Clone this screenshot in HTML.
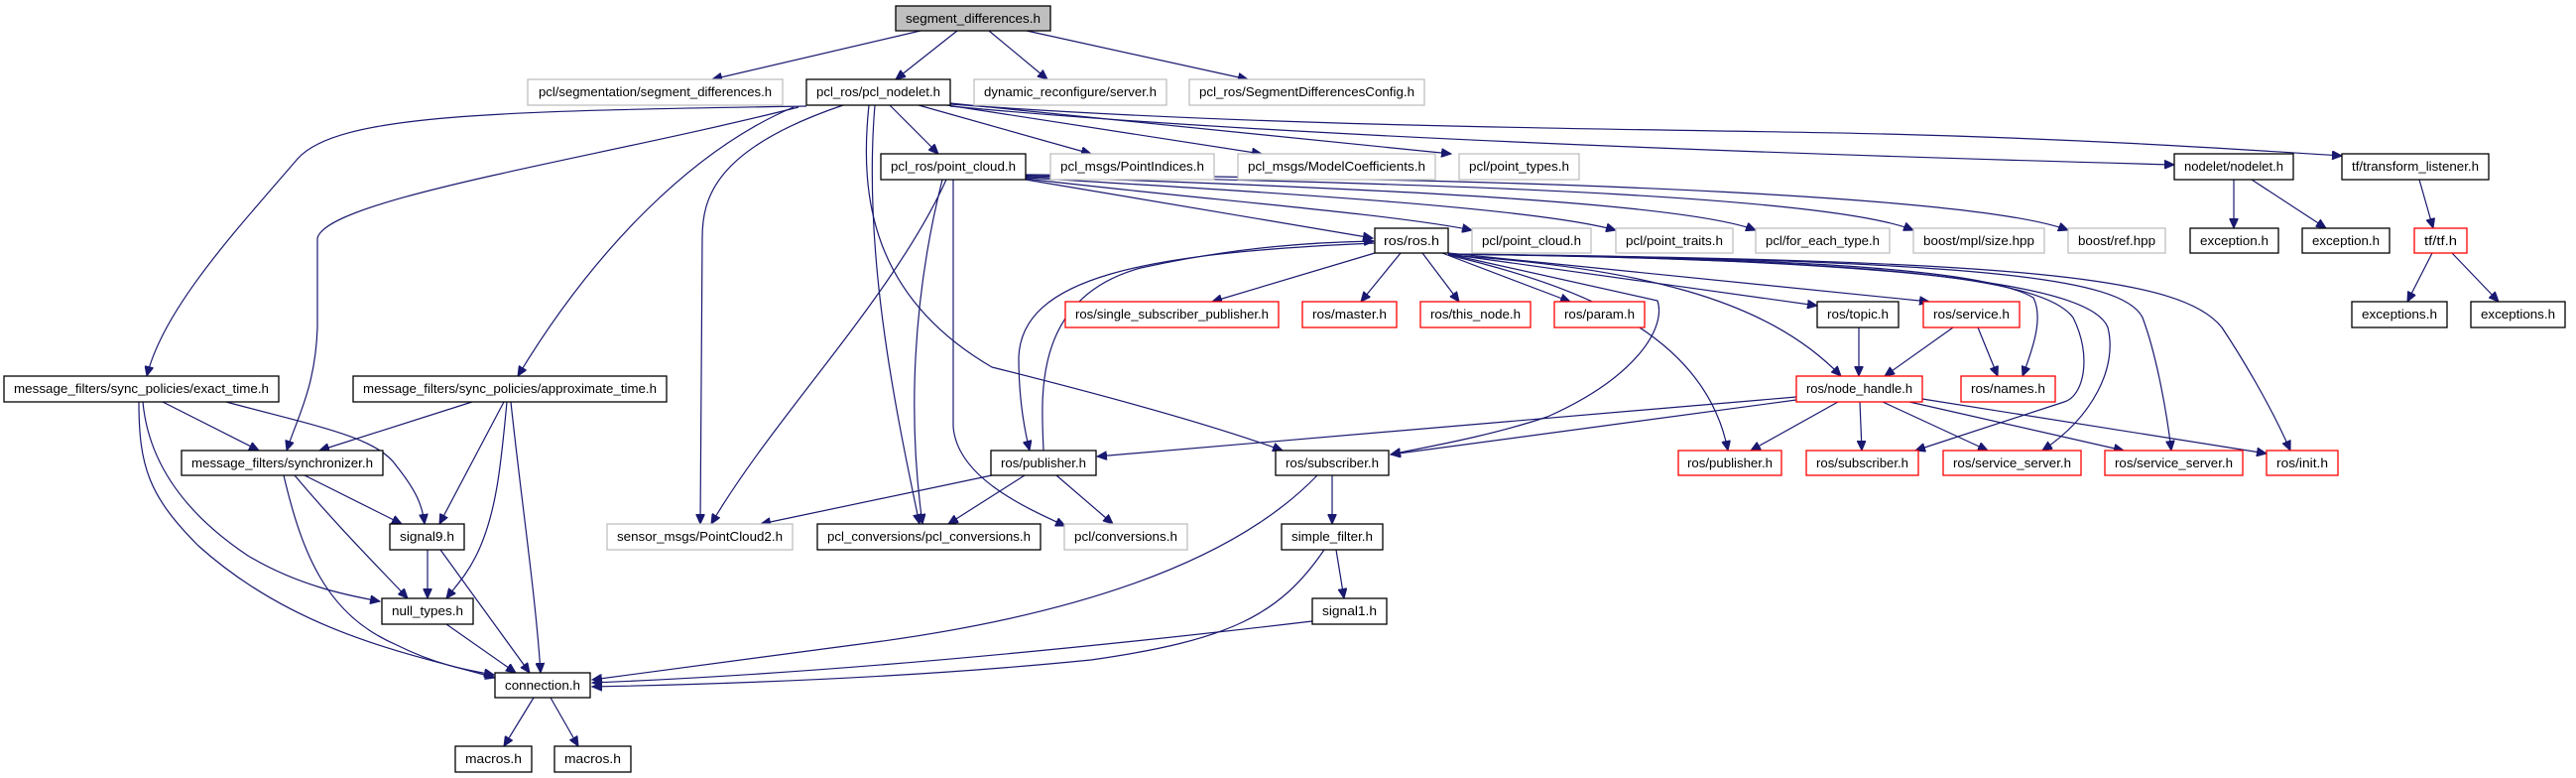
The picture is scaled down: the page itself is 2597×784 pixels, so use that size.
<!DOCTYPE html>
<html><head><meta charset="utf-8"><style>
html,body{margin:0;padding:0;background:#fff;}
svg{display:block;}
text{font-family:"Liberation Sans",sans-serif;font-size:13px;fill:#000;}
.e{fill:none;stroke:#191970;stroke-width:1.2;}
.b{fill:#fff;stroke:#000;stroke-width:1.3;}
.g{fill:#fff;stroke:#bfbfbf;stroke-width:1.3;}
.r{fill:#fff;stroke:#ff0000;stroke-width:1.3;}
</style></head><body>
<svg width="2597" height="784" viewBox="0 0 2597 784" xmlns="http://www.w3.org/2000/svg">
<defs><marker id="a" markerWidth="11" markerHeight="9" refX="10" refY="4.5" orient="auto" markerUnits="userSpaceOnUse"><path d="M0,0 L10,4.5 L0,9 Z" fill="#191970" stroke="#191970"/></marker></defs>
<g marker-end="url(#a)">
<!-- root -->
<path class="e" d="M928,31 L718,80"/>
<path class="e" d="M965,31 L903,80"/>
<path class="e" d="M997,31 L1056,80"/>
<path class="e" d="M1035,31 L1258,80"/>
<!-- pcl_nodelet -->
<path class="e" d="M813,107 C 500,112 340,115 300,160 C 240,230 165,310 148,379"/>
<path class="e" d="M805,108 C 600,160 330,200 320,240 L 320,330 C 318,390 300,420 289,454"/>
<path class="e" d="M800,108 C 700,150 600,250 522,379"/>
<path class="e" d="M850,106 C 720,150 708,200 708,240 L 706,528"/>
<path class="e" d="M882,106 C 870,250 900,400 927,528"/>
<path class="e" d="M876,106 C 866,200 880,300 1000,370 Q 1200,420 1293,454"/>
<path class="e" d="M897,106 L946,155"/>
<path class="e" d="M926,106 L1100,155"/>
<path class="e" d="M955,106 L1272,155"/>
<path class="e" d="M958,104 L1463,155"/>
<path class="e" d="M958,107 C 1200,130 1600,150 2192,166"/>
<path class="e" d="M958,105 C 1300,130 1700,130 1900,135 C 2100,140 2250,150 2361,157"/>
<!-- point_cloud -->
<path class="e" d="M1034,181 L1384,240"/>
<path class="e" d="M1034,180 C 1200,200 1400,215 1484,232"/>
<path class="e" d="M1034,179 C 1300,195 1550,210 1629,232"/>
<path class="e" d="M1034,178 C 1400,190 1700,205 1770,232"/>
<path class="e" d="M1034,177 C 1500,185 1850,200 1929,232"/>
<path class="e" d="M1034,176 C 1600,180 2000,200 2085,232"/>
<path class="e" d="M954,181 C 900,300 780,420 717,528"/>
<path class="e" d="M950,181 C 920,300 915,420 930,528"/>
<path class="e" d="M961,181 L 961,430 C 965,480 1030,510 1074,530"/>
<!-- ros.h -->
<path class="e" d="M1386,255 L1222,304"/>
<path class="e" d="M1412,255 L1372,304"/>
<path class="e" d="M1434,255 L1471,304"/>
<path class="e" d="M1454,255 L1583,304"/>
<path class="e" d="M1460,256 L1832,308"/>
<path class="e" d="M1460,255 L1945,304"/>
<path class="e" d="M1460,257 C 1650,270 1780,300 1856,379"/>
<path class="e" d="M1460,256 C 1800,260 2000,270 2050,300 C 2060,320 2050,350 2039,379"/>
<path class="e" d="M1460,257 C 1600,290 1720,340 1742,454"/>
<path class="e" d="M1460,256 L 1671,303 C 1680,330 1650,380 1560,420 C 1500,440 1440,450 1402,458"/>
<path class="e" d="M1460,256 C 1900,262 2060,280 2090,320 C 2110,360 2100,400 2081,405 L 1931,454"/>
<path class="e" d="M1460,256 C 1950,262 2110,290 2125,330 C 2135,370 2110,420 2059,454"/>
<path class="e" d="M1460,256 C 2000,262 2140,280 2160,320 C 2175,360 2185,420 2189,454"/>
<path class="e" d="M1460,256 C 2050,262 2200,280 2240,330 C 2260,360 2290,410 2309,454"/>
<path class="e" d="M1386,245 C 1150,255 1030,280 1027,360 C 1027,400 1032,430 1038,454"/>
<path class="e" d="M1052,454 C 1050,400 1040,300 1150,270 C 1250,248 1330,244 1385,243"/>
<!-- topic/service -->
<path class="e" d="M1874,330 L1874,379"/>
<path class="e" d="M1969,330 L1900,379"/>
<path class="e" d="M1994,330 L2014,379"/>
<!-- node_handle -->
<path class="e" d="M1853,405 L1765,454"/>
<path class="e" d="M1875,405 L1877,454"/>
<path class="e" d="M1898,405 L2004,454"/>
<path class="e" d="M1925,405 L2141,454"/>
<path class="e" d="M1938,402 L2285,457"/>
<path class="e" d="M1811,400 L1106,460"/>
<path class="e" d="M1811,403 L1402,458"/>
<!-- publisher black -->
<path class="e" d="M1000,479 L767,528"/>
<path class="e" d="M1033,479 L956,528"/>
<path class="e" d="M1065,479 L1122,528"/>
<!-- subscriber black -->
<path class="e" d="M1343,479 L1343,528"/>
<path class="e" d="M1328,479 C 1250,560 1100,620 860,650 C 750,665 650,678 597,685"/>
<!-- simple_filter / signal1 -->
<path class="e" d="M1347,554 L1355,603"/>
<path class="e" d="M1335,554 C 1290,620 1240,645 1100,665 C 900,685 700,690 597,692"/>
<path class="e" d="M1323,626 Q 900,676 597,688"/>
<!-- exact_time -->
<path class="e" d="M164,405 L261,454"/>
<path class="e" d="M228,405 C 320,430 380,440 400,470 C 420,495 426,510 428,528"/>
<path class="e" d="M144,405 C 150,470 190,520 250,560 C 300,590 350,600 383,606"/>
<path class="e" d="M140,405 C 140,470 150,500 200,550 C 300,640 420,660 499,683"/>
<!-- approximate_time -->
<path class="e" d="M476,405 L322,454"/>
<path class="e" d="M508,405 L443,528"/>
<path class="e" d="M511,405 C 505,470 500,520 480,560 C 470,580 460,590 450,603"/>
<path class="e" d="M515,405 C 525,500 540,600 545,678"/>
<!-- synchronizer -->
<path class="e" d="M307,479 L405,528"/>
<path class="e" d="M297,479 C 340,530 380,570 411,603"/>
<path class="e" d="M286,479 C 305,560 330,620 400,650 C 440,670 470,675 498,680"/>
<!-- signal9 / null_types / connection -->
<path class="e" d="M431,554 L431,603"/>
<path class="e" d="M444,554 L534,678"/>
<path class="e" d="M450,629 L520,678"/>
<path class="e" d="M538,703 L508,752"/>
<path class="e" d="M555,703 L583,752"/>
<!-- nodelet / tf -->
<path class="e" d="M2252,181 L2252,230"/>
<path class="e" d="M2270,181 L2345,230"/>
<path class="e" d="M2439,181 L2453,230"/>
<path class="e" d="M2452,255 L2427,304"/>
<path class="e" d="M2472,255 L2519,304"/>
</g>
<!-- nodes -->
<rect x="903" y="6" width="156" height="25" fill="#bfbfbf" stroke="#000" stroke-width="1.3"/><text x="981" y="23" text-anchor="middle" textLength="136" lengthAdjust="spacingAndGlyphs">segment_differences.h</text>

<rect class="g" x="532" y="80" width="257" height="26"/><text x="660.5" y="97" text-anchor="middle" textLength="235" lengthAdjust="spacingAndGlyphs">pcl/segmentation/segment_differences.h</text>
<rect class="b" x="813" y="80" width="145" height="26"/><text x="885.5" y="97" text-anchor="middle" textLength="125" lengthAdjust="spacingAndGlyphs">pcl_ros/pcl_nodelet.h</text>
<rect class="g" x="982" y="80" width="194" height="26"/><text x="1079" y="97" text-anchor="middle" textLength="174" lengthAdjust="spacingAndGlyphs">dynamic_reconfigure/server.h</text>
<rect class="g" x="1199" y="80" width="237" height="26"/><text x="1317.5" y="97" text-anchor="middle" textLength="217" lengthAdjust="spacingAndGlyphs">pcl_ros/SegmentDifferencesConfig.h</text>

<rect class="b" x="888" y="155" width="146" height="26"/><text x="961" y="172" text-anchor="middle" textLength="126" lengthAdjust="spacingAndGlyphs">pcl_ros/point_cloud.h</text>
<rect class="g" x="1059" y="155" width="165" height="26"/><text x="1141.5" y="172" text-anchor="middle" textLength="145" lengthAdjust="spacingAndGlyphs">pcl_msgs/PointIndices.h</text>
<rect class="g" x="1248" y="155" width="199" height="26"/><text x="1347.5" y="172" text-anchor="middle" textLength="179" lengthAdjust="spacingAndGlyphs">pcl_msgs/ModelCoefficients.h</text>
<rect class="g" x="1471" y="155" width="121" height="26"/><text x="1531.5" y="172" text-anchor="middle" textLength="101" lengthAdjust="spacingAndGlyphs">pcl/point_types.h</text>
<rect class="b" x="2192" y="155" width="120" height="26"/><text x="2252" y="172" text-anchor="middle" textLength="100" lengthAdjust="spacingAndGlyphs">nodelet/nodelet.h</text>
<rect class="b" x="2361" y="155" width="148" height="26"/><text x="2435" y="172" text-anchor="middle" textLength="128" lengthAdjust="spacingAndGlyphs">tf/transform_listener.h</text>

<rect class="b" x="1386" y="230" width="74" height="25"/><text x="1423" y="247" text-anchor="middle" textLength="56" lengthAdjust="spacingAndGlyphs">ros/ros.h</text>
<rect class="g" x="1484" y="230" width="120" height="25"/><text x="1544" y="247" text-anchor="middle" textLength="100" lengthAdjust="spacingAndGlyphs">pcl/point_cloud.h</text>
<rect class="g" x="1629" y="230" width="118" height="25"/><text x="1688" y="247" text-anchor="middle" textLength="98" lengthAdjust="spacingAndGlyphs">pcl/point_traits.h</text>
<rect class="g" x="1770" y="230" width="135" height="25"/><text x="1837.5" y="247" text-anchor="middle" textLength="115" lengthAdjust="spacingAndGlyphs">pcl/for_each_type.h</text>
<rect class="g" x="1929" y="230" width="132" height="25"/><text x="1995" y="247" text-anchor="middle" textLength="112" lengthAdjust="spacingAndGlyphs">boost/mpl/size.hpp</text>
<rect class="g" x="2085" y="230" width="98" height="25"/><text x="2134" y="247" text-anchor="middle" textLength="78" lengthAdjust="spacingAndGlyphs">boost/ref.hpp</text>
<rect class="b" x="2208" y="230" width="89" height="25"/><text x="2252.5" y="247" text-anchor="middle" textLength="69" lengthAdjust="spacingAndGlyphs">exception.h</text>
<rect class="b" x="2321" y="230" width="88" height="25"/><text x="2365" y="247" text-anchor="middle" textLength="68" lengthAdjust="spacingAndGlyphs">exception.h</text>
<rect class="r" x="2434" y="230" width="53" height="25"/><text x="2460.5" y="247" text-anchor="middle" textLength="33" lengthAdjust="spacingAndGlyphs">tf/tf.h</text>

<rect class="r" x="1074" y="304" width="215" height="26"/><text x="1181.5" y="321" text-anchor="middle" textLength="195" lengthAdjust="spacingAndGlyphs">ros/single_subscriber_publisher.h</text>
<rect class="r" x="1313" y="304" width="95" height="26"/><text x="1360.5" y="321" text-anchor="middle" textLength="75" lengthAdjust="spacingAndGlyphs">ros/master.h</text>
<rect class="r" x="1432" y="304" width="111" height="26"/><text x="1487.5" y="321" text-anchor="middle" textLength="91" lengthAdjust="spacingAndGlyphs">ros/this_node.h</text>
<rect class="r" x="1567" y="304" width="91" height="26"/><text x="1612.5" y="321" text-anchor="middle" textLength="71" lengthAdjust="spacingAndGlyphs">ros/param.h</text>
<rect class="b" x="1832" y="304" width="82" height="26"/><text x="1873" y="321" text-anchor="middle" textLength="62" lengthAdjust="spacingAndGlyphs">ros/topic.h</text>
<rect class="r" x="1939" y="304" width="97" height="26"/><text x="1987.5" y="321" text-anchor="middle" textLength="77" lengthAdjust="spacingAndGlyphs">ros/service.h</text>
<rect class="b" x="2371" y="304" width="96" height="26"/><text x="2419" y="321" text-anchor="middle" textLength="76" lengthAdjust="spacingAndGlyphs">exceptions.h</text>
<rect class="b" x="2491" y="304" width="95" height="26"/><text x="2538.5" y="321" text-anchor="middle" textLength="75" lengthAdjust="spacingAndGlyphs">exceptions.h</text>

<rect class="b" x="4" y="379" width="277" height="26"/><text x="142.5" y="396" text-anchor="middle" textLength="257" lengthAdjust="spacingAndGlyphs">message_filters/sync_policies/exact_time.h</text>
<rect class="b" x="356" y="379" width="316" height="26"/><text x="514" y="396" text-anchor="middle" textLength="296" lengthAdjust="spacingAndGlyphs">message_filters/sync_policies/approximate_time.h</text>
<rect class="r" x="1811" y="379" width="127" height="26"/><text x="1874.5" y="396" text-anchor="middle" textLength="107" lengthAdjust="spacingAndGlyphs">ros/node_handle.h</text>
<rect class="r" x="1977" y="379" width="95" height="26"/><text x="2024.5" y="396" text-anchor="middle" textLength="75" lengthAdjust="spacingAndGlyphs">ros/names.h</text>

<rect class="b" x="183" y="454" width="203" height="25"/><text x="284.5" y="471" text-anchor="middle" textLength="183" lengthAdjust="spacingAndGlyphs">message_filters/synchronizer.h</text>
<rect class="b" x="999" y="454" width="106" height="25"/><text x="1052" y="471" text-anchor="middle" textLength="86" lengthAdjust="spacingAndGlyphs">ros/publisher.h</text>
<rect class="b" x="1286" y="454" width="114" height="25"/><text x="1343" y="471" text-anchor="middle" textLength="94" lengthAdjust="spacingAndGlyphs">ros/subscriber.h</text>
<rect class="r" x="1692" y="454" width="104" height="25"/><text x="1744" y="471" text-anchor="middle" textLength="86" lengthAdjust="spacingAndGlyphs">ros/publisher.h</text>
<rect class="r" x="1821" y="454" width="113" height="25"/><text x="1877.5" y="471" text-anchor="middle" textLength="93" lengthAdjust="spacingAndGlyphs">ros/subscriber.h</text>
<rect class="r" x="1959" y="454" width="139" height="25"/><text x="2028.5" y="471" text-anchor="middle" textLength="119" lengthAdjust="spacingAndGlyphs">ros/service_server.h</text>
<rect class="r" x="2122" y="454" width="139" height="25"/><text x="2191.5" y="471" text-anchor="middle" textLength="119" lengthAdjust="spacingAndGlyphs">ros/service_server.h</text>
<rect class="r" x="2285" y="454" width="72" height="25"/><text x="2321" y="471" text-anchor="middle" textLength="52" lengthAdjust="spacingAndGlyphs">ros/init.h</text>

<rect class="b" x="393" y="528" width="75" height="26"/><text x="430.5" y="545" text-anchor="middle" textLength="55" lengthAdjust="spacingAndGlyphs">signal9.h</text>
<rect class="g" x="612" y="528" width="187" height="26"/><text x="705.5" y="545" text-anchor="middle" textLength="167" lengthAdjust="spacingAndGlyphs">sensor_msgs/PointCloud2.h</text>
<rect class="b" x="824" y="528" width="225" height="26"/><text x="936.5" y="545" text-anchor="middle" textLength="205" lengthAdjust="spacingAndGlyphs">pcl_conversions/pcl_conversions.h</text>
<rect class="g" x="1073" y="528" width="124" height="26"/><text x="1135" y="545" text-anchor="middle" textLength="104" lengthAdjust="spacingAndGlyphs">pcl/conversions.h</text>
<rect class="b" x="1292" y="528" width="102" height="26"/><text x="1343" y="545" text-anchor="middle" textLength="82" lengthAdjust="spacingAndGlyphs">simple_filter.h</text>

<rect class="b" x="385" y="603" width="92" height="26"/><text x="431" y="620" text-anchor="middle" textLength="72" lengthAdjust="spacingAndGlyphs">null_types.h</text>
<rect class="b" x="1323" y="603" width="75" height="26"/><text x="1360.5" y="620" text-anchor="middle" textLength="55" lengthAdjust="spacingAndGlyphs">signal1.h</text>

<rect class="b" x="499" y="678" width="96" height="25"/><text x="547" y="695" text-anchor="middle" textLength="76" lengthAdjust="spacingAndGlyphs">connection.h</text>

<rect class="b" x="459" y="752" width="77" height="26"/><text x="497.5" y="769" text-anchor="middle" textLength="57" lengthAdjust="spacingAndGlyphs">macros.h</text>
<rect class="b" x="559" y="752" width="77" height="26"/><text x="597.5" y="769" text-anchor="middle" textLength="57" lengthAdjust="spacingAndGlyphs">macros.h</text>
</svg>
</body></html>
